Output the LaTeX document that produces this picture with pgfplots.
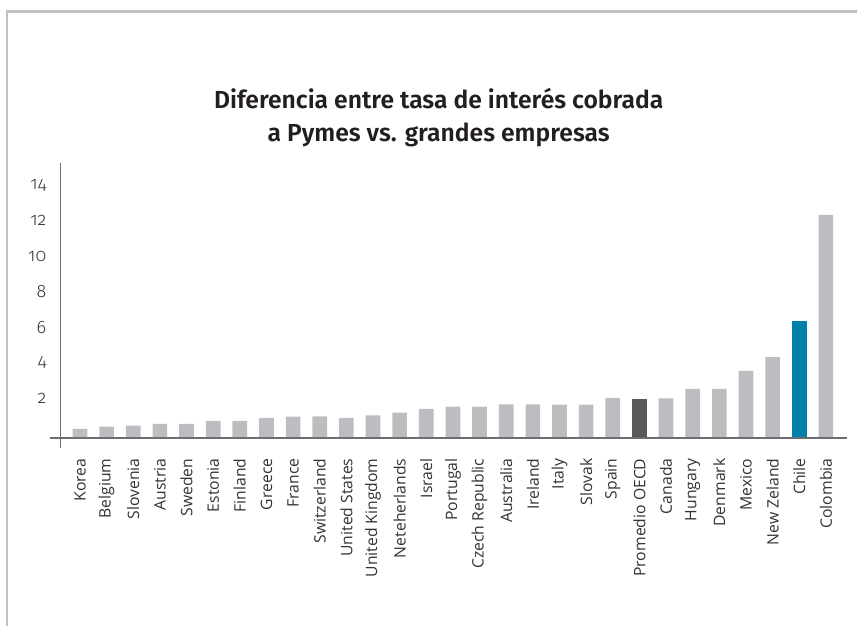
\documentclass[border=0pt]{standalone}
\usepackage{fontspec}
\setmainfont{Open Sans}
\newfontfamily\titlefont{Fira Sans SemiBold}
\newfontfamily\tickfont{Fira Sans Light}[Numbers=OldStyle]
\usepackage{pgfplots}
\pgfplotsset{compat=1.18}

\definecolor{bargray}{HTML}{BCBDC0}
\definecolor{bardark}{HTML}{58595B}
\definecolor{barblue}{HTML}{0081A8}
\definecolor{axisgray}{HTML}{6D6E71}
\definecolor{framegray}{HTML}{C0C0C0}
\definecolor{labelgray}{HTML}{333333}
\definecolor{titleblack}{HTML}{231F20}

\begin{document}
\begin{tikzpicture}
\path[use as bounding box] (0,0) rectangle (642.75pt,469.5pt);
\draw[framegray, line width=1.7pt] (5.4pt,0) -- (5.4pt,460.9pt) -- (642.75pt,460.9pt);

\node[anchor=base, text=titleblack, font=\titlefont\fontsize{18.5}{20}\selectfont]
  at (329pt,388pt) {Diferencia entre tasa de interés cobrada};
\node[anchor=base, text=titleblack, font=\titlefont\fontsize{18.5}{20}\selectfont]
  at (329pt,363pt) {a Pymes vs. grandes empresas};

\begin{axis}[
  at={(45.5pt,140.8pt)}, anchor=south west,
  scale only axis, width=589.7pt, height=206.5pt,
  xmin=-0.725, xmax=28.79, ymin=0, ymax=15.55,
  axis line style={draw=none},
  major tick length=0pt,
  ybar, bar width=11pt, bar shift=0pt,
  xtick={0,...,28},
  xticklabels={Korea,Belgium,Slovenia,Austria,Sweden,Estonia,Finland,Greece,France,Switzerland,United States,United Kingdom,Neteherlands,Israel,Portugal,Czech Republic,Australia,Ireland,Italy,Slovak,Spain,Promedio OECD,Canada,Hungary,Denmark,Mexico,New Zeland,Chile,Colombia},
  xticklabel style={rotate=90, anchor=east, inner sep=0pt, text=labelgray,
    font=\fontsize{11.8}{12}\selectfont},
  xticklabel shift=15pt,
  ytick={2,4,6,8,10,12,14},
  yticklabels={2,4,6,8,10,12,14},
  yticklabel style={inner sep=0pt, xshift=-10.6pt, yshift=3.7pt, text=labelgray,
    font=\tickfont\fontsize{13.5}{14}\selectfont},
  clip=false,
]
\addplot[fill=bargray, draw=none] coordinates {
(0,0.53) (1,0.66) (2,0.71) (3,0.82) (4,0.82) (5,0.98) (6,0.98) (7,1.15)
(8,1.22) (9,1.23) (10,1.15) (11,1.30) (12,1.45) (13,1.66) (14,1.79)
(15,1.79) (16,1.91) (17,1.91) (18,1.90) (19,1.90) (20,2.28)
(22,2.26) (23,2.79) (24,2.79) (25,3.80) (26,4.58) (28,12.62)
};
\addplot[fill=bardark, draw=none] coordinates {(21,2.20)};
\addplot[fill=barblue, draw=none] coordinates {(27,6.63)};

\draw[axisgray, line width=1.2pt] (axis cs:-1.127,0) -- (axis cs:28.79,0);
\draw[axisgray, line width=1.2pt] (axis cs:-0.725,-0.565) -- (axis cs:-0.725,15.55);
\end{axis}
\end{tikzpicture}
\end{document}
